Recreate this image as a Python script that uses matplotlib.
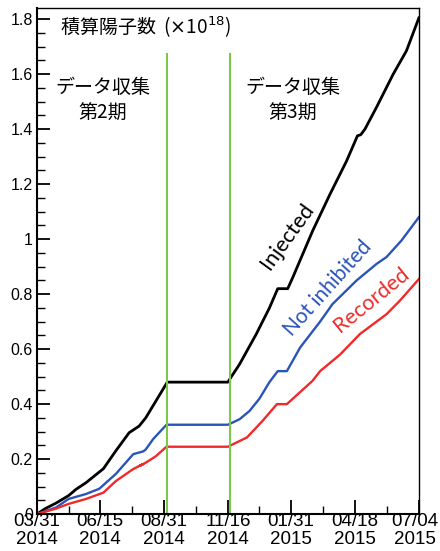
import numpy as np
import pandas as pd
import matplotlib
matplotlib.use("Agg")
from matplotlib import pyplot as plt
from matplotlib.ticker import MultipleLocator, FixedLocator
from matplotlib.transforms import ScaledTranslation

# days since 2014-03-31
start = "2014-03-31"

injected_days = [0, 10, 23, 38, 47, 59, 80, 95, 111, 123, 131, 143, 157, 230, 232, 244,
                 264, 280, 290, 302, 308, 332, 353, 373, 386, 390, 395, 409, 429, 445, 460]
injected = [0, 0.02, 0.04, 0.067, 0.09, 0.114, 0.165, 0.23, 0.296, 0.32, 0.35, 0.41, 0.48,
            0.48, 0.49, 0.545, 0.654, 0.75, 0.82, 0.82, 0.86, 1.03, 1.164, 1.285, 1.376,
            1.38, 1.40, 1.48, 1.60, 1.685, 1.805]

notinh_days = [0, 23, 38, 59, 75, 95, 116, 128, 131, 140, 156, 230, 244, 256, 268, 280,
               290, 301, 317, 341, 356, 385, 409, 421, 439, 460]
notinh = [0, 0.024, 0.055, 0.073, 0.092, 0.146, 0.218, 0.228, 0.235, 0.273, 0.325, 0.325,
          0.345, 0.375, 0.42, 0.48, 0.52, 0.52, 0.606, 0.70, 0.764, 0.85, 0.91, 0.935,
          0.995, 1.08]

recorded_days = [0, 23, 38, 59, 80, 95, 116, 128, 124, 131, 143, 156, 230, 253, 272, 289,
                 301, 332, 341, 365, 389, 421, 437, 460]
recorded = [0, 0.02, 0.037, 0.055, 0.078, 0.12, 0.164, 0.182, 0.176, 0.187, 0.21, 0.245,
            0.245, 0.279, 0.34, 0.40, 0.40, 0.485, 0.52, 0.58, 0.655, 0.727, 0.776, 0.855]

period_lines = ["2014-09-04", "2014-11-18"]
xtick_labels = ["03/31\n2014", "06/15\n2014", "08/31\n2014", "11/16\n2014",
                "01/31\n2015", "04/18\n2015", "07/04\n2015"]
xtick_dates = ["2014-03-31", "2014-06-15", "2014-08-31", "2014-11-16",
               "2015-01-31", "2015-04-18", "2015-07-04"]
yticks = [0, 0.2, 0.4, 0.6, 0.8, 1.0, 1.2, 1.4, 1.6, 1.8]
ytick_labels = ["0", "0.2", "0.4", "0.6", "0.8", "1", "1.2", "1.4", "1.6", "1.8"]


def to_dates(days):
    return pd.Timestamp(start) + pd.to_timedelta(days, unit="D")


plt.rcParams["font.family"] = ["Liberation Sans", "DejaVu Sans"]
jp = ["Noto Sans CJK JP", "DejaVu Sans"]

fig = plt.figure(figsize=(4.4, 5.51), dpi=100)
ax = fig.add_axes([0.084, 0.067, 0.868, 0.918])

ax.plot(to_dates(injected_days), injected, color="black", lw=2.0)
ax.plot(to_dates(notinh_days), notinh, color="#2a55b8", lw=1.7)
ax.plot(to_dates(recorded_days), recorded, color="#f02a2a", lw=1.7)

for d in period_lines:
    ax.plot([pd.Timestamp(d)] * 2, [0, 1.675], color="#7cc84a", lw=1.5)

xt = pd.to_datetime(xtick_dates)
ax.set_xlim(xt[0], xt[-1])
ax.set_ylim(0, 1.84)
ax.xaxis.set_major_locator(FixedLocator(matplotlib.dates.date2num(xt)))
ax.set_xticklabels(xtick_labels, linespacing=1.1, fontsize=13.5)
mids = xt[:-1] + (xt[1:] - xt[:-1]) / 2
ax.xaxis.set_minor_locator(FixedLocator(matplotlib.dates.date2num(mids)))
ax.set_yticks(yticks)
ax.set_yticklabels(ytick_labels, fontsize=11.5)
ax.yaxis.set_minor_locator(MultipleLocator(0.05))

ax.tick_params(which="both", direction="in", top=False, right=False)
ax.tick_params(axis="y", which="major", length=9.5, width=1.3, pad=3)
ax.tick_params(axis="y", which="minor", length=5.5, width=1.0)
ax.tick_params(axis="x", which="major", length=10, width=1.3, pad=-1)
ax.tick_params(axis="x", which="minor", length=5.5, width=1.0)
for s in ["left", "bottom"]:
    ax.spines[s].set_linewidth(1.5)
for s in ["top", "right"]:
    ax.spines[s].set_linewidth(1.0)

# last date label sits a bit left of its tick, as in the original
last = ax.get_xticklabels()[-1]
last.set_transform(last.get_transform() + ScaledTranslation(-4 / 100, 0, fig.dpi_scale_trans))

ax.text(0.06, 0.962, "積算陽子数  ($\\times$10$^{18}$)", transform=ax.transAxes,
        family=jp, fontsize=13.7, va="center", ha="left")
ax.text(0.173, 0.818, "データ収集\n第2期", transform=ax.transAxes,
        family=jp, fontsize=13.7, va="center", ha="center", linespacing=1.3)
ax.text(0.670, 0.818, "データ収集\n第3期", transform=ax.transAxes,
        family=jp, fontsize=13.7, va="center", ha="center", linespacing=1.3)

lab = ["Lato", "DejaVu Sans"]
ax.text(0.655, 0.550, "Injected", transform=ax.transAxes, family=lab,
        fontsize=15.5, rotation=54, ha="center", va="center", color="black")
ax.text(0.761, 0.446, "Not inhibited", transform=ax.transAxes, family=lab,
        fontsize=15, rotation=48, ha="center", va="center", color="#2a55b8")
ax.text(0.875, 0.424, "Recorded", transform=ax.transAxes, family=lab,
        fontsize=15.5, rotation=39, ha="center", va="center", color="#f02a2a")

fig.savefig("out.png", dpi=100)
